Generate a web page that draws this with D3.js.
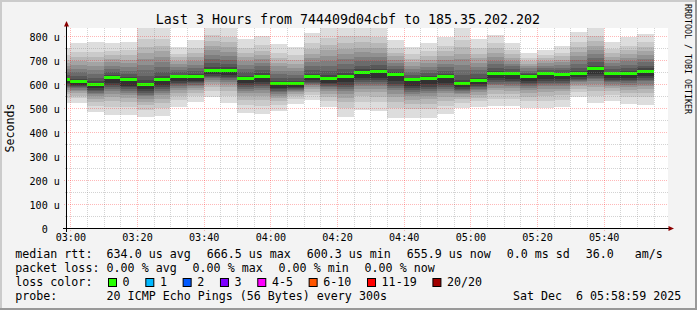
<!DOCTYPE html>
<html><head><meta charset="utf-8">
<script src="https://cdn.jsdelivr.net/npm/d3@7"></script>
<style>
body{margin:0;background:#f3f3f3}
svg{display:block}
text{font-family:"DejaVu Sans Mono",monospace;fill:#000;white-space:pre}
</style>
</head><body>
<svg id="c" width="697" height="310"></svg>
<script>
// ---------- DATA ----------
const title = "Last 3 Hours from 744409d04cbf to 185.35.202.202";
const binEnd = ["03:00","03:05","03:10","03:15","03:20","03:25","03:30","03:35","03:40","03:45","03:50","03:55",
  "04:00","04:05","04:10","04:15","04:20","04:25","04:30","04:35","04:40","04:45","04:50","04:55",
  "05:00","05:05","05:10","05:15","05:20","05:25","05:30","05:35","05:40","05:45","05:50","05:55"];
const medians = [620,612,601,631,620,600.3,621,632,632,660,660,626,635,604,604,632,625,634,649,653,641,619,624,632,603,617,646,644,635,646,641,644,666.5,644,646,655.9];
const lossCount = [0,0,0,0,0,0,0,0,0,0,0,0,0,0,0,0,0,0,0,0,0,0,0,0,0,0,0,0,0,0,0,0,0,0,0,0];
// 20 sorted ping rtts per 5-minute bin (microseconds)
const pings = [
 [524,545,559,569,578,584,590,595,600,606,620,629,640,652,664,677,690,704,722,752],
 [522,542,554,564,572,579,584,589,593,598,612,623,636,651,665,682,698,716,737,774],
 [487,512,528,541,551,559,566,571,577,584,601,613,627,643,659,676,694,713,736,776],
 [473,508,530,547,561,573,582,590,598,607,631,641,652,665,678,692,706,722,740,773],
 [473,505,526,542,555,566,574,582,589,595,620,631,644,658,672,688,704,721,742,778],
 [465,495,514,528,541,550,558,565,572,580,600.3,617,637,659,681,705,730,757,789,845],
 [470,503,524,541,555,565,574,582,589,598,621,636,654,674,694,716,738,762,791,842],
 [507,535,552,566,577,586,593,600,606,613,632,641,651,662,674,686,699,713,729,758],
 [527,550,565,576,586,593,599,605,610,616,632,643,655,669,682,698,713,730,750,785],
 [549,573,589,601,611,619,626,631,637,643,660,673,689,706,723,742,761,782,806,850],
 [524,554,573,588,600,610,618,625,631,640,660,673,687,703,719,737,755,775,799,840],
 [483,514,534,550,563,573,582,589,596,605,626,637,651,665,680,697,713,731,752,790],
 [477,512,534,551,565,577,586,594,602,611,635,647,660,675,690,706,723,741,763,801],
 [488,514,530,543,553,561,568,574,580,587,604,616,629,644,658,675,691,710,731,769],
 [519,538,550,559,567,573,578,582,586,591,604,615,627,641,655,670,686,703,723,758],
 [535,556,570,581,589,596,602,607,612,617,632,645,659,675,692,710,728,748,771,813],
 [505,531,548,561,572,581,588,594,600,607,625,640,658,678,698,720,742,766,794,845],
 [466,503,526,545,560,572,582,590,599,609,634,649,666,686,705,727,748,772,800,850],
 [495,529,550,567,581,592,601,609,617,626,649,663,679,697,715,735,754,776,802,848],
 [491,527,549,567,582,593,603,611,619,629,653,666,681,698,715,733,752,773,797,840],
 [462,501,526,546,562,575,586,594,603,614,641,651,663,676,689,703,717,733,752,785],
 [462,497,519,536,550,561,570,578,586,595,619,629,640,652,665,679,693,708,726,758],
 [462,498,520,538,553,564,574,582,590,600,624,634,646,660,673,688,703,719,739,773],
 [475,510,532,549,563,574,583,591,599,608,632,644,657,672,686,703,719,738,759,797],
 [502,524,538,549,559,566,572,577,582,588,603,620,639,660,681,705,729,755,785,840],
 [505,530,545,558,568,576,582,588,593,600,617,629,643,659,674,691,709,728,750,790],
 [512,541,560,575,587,596,604,611,618,626,646,657,670,685,699,716,732,750,771,808],
 [512,541,560,574,586,595,603,610,616,624,644,653,663,675,687,699,712,727,743,773],
 [500,530,549,563,576,585,593,600,607,615,635,642,649,658,667,676,686,696,709,731],
 [500,532,553,569,582,592,601,608,615,624,646,653,661,670,679,689,698,709,722,745],
 [508,537,556,571,582,592,600,606,613,621,641,649,659,669,680,692,704,717,732,759],
 [549,570,583,594,602,609,615,619,624,630,644,656,670,686,702,719,737,756,779,819],
 [523,554,574,590,603,613,622,629,636,645,666.5,679,693,709,725,743,760,780,803,845],
 [530,555,571,584,594,602,609,614,620,627,644,653,664,676,688,702,715,730,747,778],
 [519,547,565,579,590,599,607,613,619,627,646,657,669,682,696,711,726,743,762,797],
 [516,547,566,582,594,604,613,620,627,635,655.9,667,679,693,707,722,738,755,775,810]
];
const yTicks = [0,100,200,300,400,500,600,700,800];
const yTickLabels = ["0","100 u","200 u","300 u","400 u","500 u","600 u","700 u","800 u"];
const xTickLabels = ["03:00","03:20","03:40","04:00","04:20","04:40","05:00","05:20","05:40"];
const lossLabels = ["0","1","2","3","4-5","6-10","11-19","20/20"];
const lossColors = ["#26ff00","#00b8ff","#0059ff","#7e00ff","#ff00ff","#ff5500","#ff0000","#a00000"];
const rttStats = ["634.0 us avg","666.5 us max","600.3 us min","655.9 us now","0.0 ms sd","36.0   am/s"];
const lossStats = ["0.00 % avg","0.00 % max","0.00 % min","0.00 % now"];
const probeText = "20 ICMP Echo Pings (56 Bytes) every 300s";
const stamp = "Sat Dec  6 05:58:59 2025";
const watermark = "RRDTOOL / TOBI OETIKER";

// ---------- SETUP ----------
const W = 697, H = 310;
const svg = d3.select("#c");
const nb = s => s.replace(/ /g, "\u00a0");
const day = (h,m,s) => new Date(2025,11,6,h,m,s);
const parseHM = s => { const [h,m] = s.split(":").map(Number); return day(h,m,0); };
const tStart = day(2,58,59), tEnd = day(5,58,59);
const X0 = 67, X1 = 667, YT = 28.5, YB = 228.5;
const x = d3.scaleTime().domain([tStart,tEnd]).range([X0,X1]);
const y = d3.scaleLinear().domain([0,833.33]).range([YB,YT]);
const shade = k => { const c = Math.floor(190/10*(10-k))+50; return d3.rgb(c,c,c).formatHex(); };
const CW = 7.02, GAP = 15.8, FS = 11.65;

// background + bevel
svg.append("rect").attr("width",W).attr("height",H).attr("fill","#f3f3f3");
svg.append("path").attr("d",`M0,0H${W}V2H2V${H}H0Z`).attr("fill","#cbcbcb");
svg.append("path").attr("d",`M${W},0V${H}H0V${H-2}H${W-2}V0Z`).attr("fill","#999999");

// canvas
svg.append("rect").attr("x",X0).attr("y",28).attr("width",601).attr("height",200).attr("fill","#fff");
svg.append("clipPath").attr("id","pc").append("rect").attr("x",X0).attr("y",28).attr("width",X1-X0).attr("height",200.5);

const plot = svg.append("g").attr("clip-path","url(#pc)").attr("shape-rendering","crispEdges");
binEnd.forEach((e,i) => {
  const te = parseHM(e), ts = new Date(+te - 300000);
  const xa = x(ts), xb = x(te);
  const p = pings[i];
  for (let k = 1; k <= 10; k++) {
    const lo = p[k-1], hi = p[20-k];
    plot.append("rect").attr("x",xa).attr("width",xb-xa)
      .attr("y",y(hi)).attr("height",y(lo)-y(hi)).attr("fill",shade(k));
  }
  const li = lossCount[i]===0?0:1;
  plot.append("rect").attr("x",xa).attr("width",xb-xa)
    .attr("y",y(medians[i])-1.5).attr("height",3).attr("fill",lossColors[li]);
});

// grid (on top)
const grid = svg.append("g");
const MAJ = "rgba(255,0,0,0.28)", MIN = "rgba(140,140,140,0.38)";
const minorT = d3.timeMinute.every(5).range(day(3,0,0), tEnd);
minorT.forEach(t => {
  const major = t.getMinutes()%20===0;
  const xx = Math.round(x(t))+0.5;
  grid.append("line").attr("x1",xx).attr("x2",xx).attr("y1",28).attr("y2",major?231:229)
    .attr("stroke",major?MAJ:MIN).attr("stroke-dasharray","1,1");
});
d3.range(50,833,50).forEach(v => {
  const major = v%100===0;
  const yy = Math.round(y(v))+0.5;
  grid.append("line").attr("x1",major?64:65).attr("x2",668).attr("y1",yy).attr("y2",yy)
    .attr("stroke",major?MAJ:MIN).attr("stroke-dasharray","1,1");
});

// axes lines + arrows
svg.append("line").attr("x1",63).attr("x2",669).attr("y1",228.5).attr("y2",228.5).attr("stroke","#000");
svg.append("line").attr("x1",66.5).attr("x2",66.5).attr("y1",232).attr("y2",25).attr("stroke","#000");
svg.append("path").attr("d","M64,26.5L66.5,21L69,26.5Z").attr("fill","#8b0000");
svg.append("path").attr("d","M668.5,226L674,228.5L668.5,231Z").attr("fill","#8b0000");

// y axis labels
const gy = svg.append("g").call(d3.axisLeft(y).tickValues(yTicks).tickFormat((d,i)=>yTickLabels[i]).tickSize(0));
gy.select(".domain").remove();
gy.attr("font-family",null).attr("font-size",null);
gy.selectAll("text").attr("x",44.7).attr("dy",null).attr("y",3.7)
  .attr("text-anchor","middle").style("font-size","10.1px").attr("fill","#000");

// x axis labels
const xTickDates = xTickLabels.map(parseHM);
const gx = svg.append("g").call(d3.axisBottom(x).tickValues(xTickDates).tickFormat((d,i)=>xTickLabels[i]).tickSize(0));
gx.select(".domain").remove();
gx.attr("font-family",null).attr("font-size",null);
gx.selectAll("text").attr("dy",null).attr("y",241).style("font-size","10.1px").attr("fill","#000");

// title
svg.append("text").attr("x",348).attr("y",24).attr("text-anchor","middle").style("font-size","13.3px").text(title);
// y title
svg.append("text").attr("transform","translate(14.3,128) rotate(-90)").attr("text-anchor","middle")
  .style("font-size",FS+"px").text("Seconds");
// watermark
svg.append("text").attr("transform","translate(684.8,4) rotate(90)").style("font-size","8.3px")
  .attr("fill","#a8a8a8").text(watermark);

// legend
const leg = svg.append("g").style("font-size",FS+"px");
const lineY = [258,272,286,300];
const L0 = 15.3, L1 = 106.6;
function row(items, yy, start) {
  let cx = start;
  items.forEach(s => { leg.append("text").attr("x",cx).attr("y",yy).text(nb(s)); cx += s.length*CW + GAP; });
}
leg.append("text").attr("x",L0).attr("y",lineY[0]).text("median rtt:");
row(rttStats, lineY[0], L1);
leg.append("text").attr("x",L0).attr("y",lineY[1]).text("packet loss:");
row(lossStats, lineY[1], L1);
leg.append("text").attr("x",L0).attr("y",lineY[2]).text("loss color:");
let bx = 108.5;
lossLabels.forEach((s,i) => {
  leg.append("rect").attr("x",bx).attr("y",278.5).attr("width",8).attr("height",8)
    .attr("fill",lossColors[i]).attr("stroke","#000").attr("stroke-width",1);
  leg.append("text").attr("x",bx+14.1).attr("y",lineY[2]).text(s);
  bx += 14.7 + s.length*CW + 15.6;
});
leg.append("text").attr("x",L0).attr("y",lineY[3]).text("probe:");
leg.append("text").attr("x",L1).attr("y",lineY[3]).text(probeText);
leg.append("text").attr("x",681.2).attr("y",lineY[3]).attr("text-anchor","end").text(nb(stamp));
</script>
</body></html>
